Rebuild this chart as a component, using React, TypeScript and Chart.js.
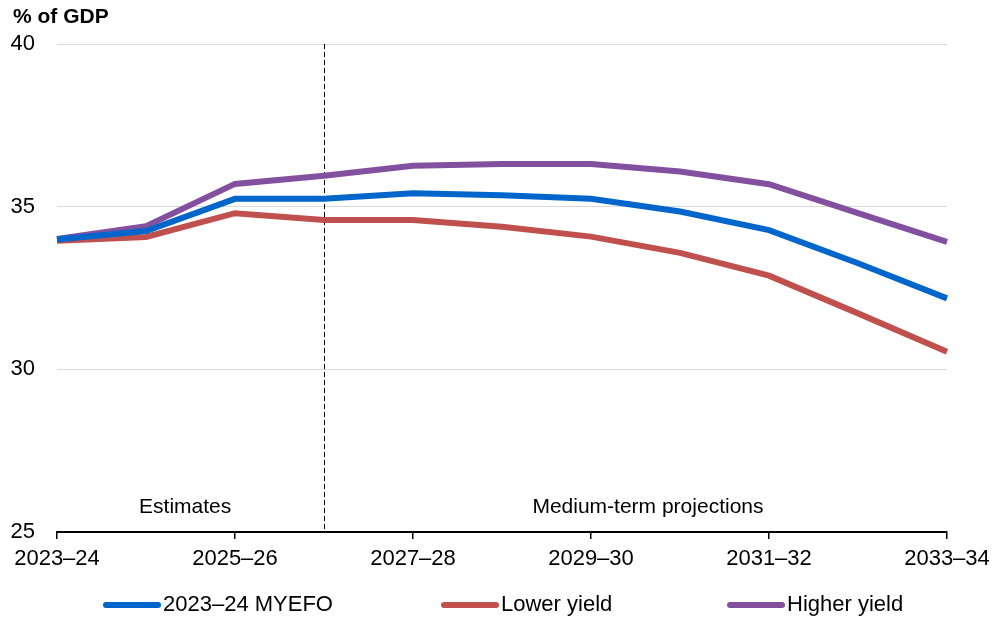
import { useEffect, useRef } from "react";
import { Chart, registerables } from "chart.js";

Chart.register(...registerables);

const categories = [
  "2023–24", "2024–25", "2025–26", "2026–27", "2027–28", "2028–29",
  "2029–30", "2030–31", "2031–32", "2032–33", "2033–34",
];
const myefo = [33.99, 34.25, 35.24, 35.24, 35.41, 35.35, 35.24, 34.85, 34.28, 33.26, 32.18];
const lowerYield = [33.95, 34.07, 34.8, 34.59, 34.59, 34.38, 34.08, 33.58, 32.88, 31.72, 30.54];
const higherYield = [34.01, 34.4, 35.7, 35.95, 36.26, 36.31, 36.31, 36.08, 35.69, 34.8, 33.92];
const seriesLabels = ["2023–24 MYEFO", "Lower yield", "Higher yield"];
const seriesColors = ["#0066CC", "#C0504D", "#834F9F"];
const yMin = 25;
const yMax = 40;
const yStep = 5;
const yAxisTitle = "% of GDP";
const boundaryCategory = "2026–27";
const periodLabels = ["Estimates", "Medium-term projections"];
const periodLabelPositions = [1.44, 6.64];

const FONT = "'Liberation Sans', Arial, sans-serif";

const overlayPlugin = {
  id: "overlay",
  beforeDatasetsDraw(chart: any) {
    const { ctx, chartArea, scales } = chart;
    const xPix = Math.round(scales.x.getPixelForValue(categories.indexOf(boundaryCategory))) + 0.5;
    ctx.save();
    ctx.strokeStyle = "#000";
    ctx.lineWidth = 1;
    ctx.setLineDash([5, 3]);
    ctx.beginPath();
    ctx.moveTo(xPix, chartArea.top);
    ctx.lineTo(xPix, chartArea.bottom);
    ctx.stroke();
    ctx.restore();
  },
  afterDraw(chart: any) {
    const { ctx, chartArea, scales } = chart;
    ctx.save();
    ctx.fillStyle = "#000";
    // axis title
    ctx.font = `bold 21px ${FONT}`;
    ctx.textAlign = "left";
    ctx.textBaseline = "middle";
    ctx.fillText(yAxisTitle, 13, 17);
    // period labels
    ctx.font = `21px ${FONT}`;
    ctx.textAlign = "center";
    periodLabels.forEach((t, i) => {
      ctx.fillText(t, scales.x.getPixelForValue(periodLabelPositions[i]), chartArea.bottom - 25);
    });
    // legend
    const legendX = [103, 441, 727];
    const legendY = 605;
    ctx.font = `22px ${FONT}`;
    ctx.textAlign = "left";
    chart.data.datasets.forEach((ds: any, i: number) => {
      const x0 = legendX[i];
      ctx.strokeStyle = ds.borderColor;
      ctx.lineWidth = 6;
      ctx.lineCap = "round";
      ctx.beginPath();
      ctx.moveTo(x0 + 3, legendY);
      ctx.lineTo(x0 + 55, legendY);
      ctx.stroke();
      ctx.fillStyle = "#000";
      ctx.fillText(ds.label, x0 + 60, legendY);
    });
    ctx.restore();
  },
};

export default function App() {
  const canvasRef = useRef<HTMLCanvasElement | null>(null);

  useEffect(() => {
    if (!canvasRef.current) return;
    const seriesData = [myefo, lowerYield, higherYield];
    const chart = new Chart(canvasRef.current, {
      type: "line",
      data: {
        labels: categories,
        datasets: seriesData.map((d, i) => ({
          label: seriesLabels[i],
          data: d,
          borderColor: seriesColors[i],
          backgroundColor: seriesColors[i],
          borderWidth: 6,
          pointRadius: 0,
          pointHoverRadius: 0,
          tension: 0,
          fill: false,
        })),
      },
      options: {
        responsive: false,
        animation: false,
        devicePixelRatio: 1,
        layout: { padding: { top: 44, right: 50, bottom: 48, left: 0 } },
        plugins: {
          legend: { display: false },
          title: { display: false },
          tooltip: { enabled: false },
        },
        scales: {
          x: {
            type: "category",
            offset: false,
            afterFit: (s: any) => {
              s.height = 40;
            },
            ticks: {
              autoSkip: false,
              maxRotation: 0,
              minRotation: 0,
              padding: 7,
              color: "#000",
              font: { family: FONT, size: 22 },
              callback: (_v: any, i: number) => (i % 2 === 0 ? categories[i] : ""),
            },
            grid: {
              drawOnChartArea: false,
              drawTicks: true,
              tickLength: 7,
              lineWidth: 1.5,
              color: (c: any) => (c.index % 2 === 0 ? "#000" : "rgba(0,0,0,0)"),
            },
            border: { display: true, color: "#000", width: 2 },
          },
          y: {
            min: yMin,
            max: yMax,
            afterFit: (s: any) => {
              s.width = 57;
            },
            ticks: {
              stepSize: yStep,
              padding: 22,
              color: "#000",
              font: { family: FONT, size: 22 },
            },
            grid: {
              drawTicks: false,
              lineWidth: 1,
              color: (c: any) => (c.tick && c.tick.value === yMin ? "rgba(0,0,0,0)" : "#D9D9D9"),
            },
            border: { display: false },
          },
        },
      },
      plugins: [overlayPlugin],
    });
    return () => chart.destroy();
  }, []);

  return (
    <div style={{ position: "fixed", left: 0, top: 0, width: 997, height: 620, background: "#fff" }}>
      <canvas ref={canvasRef} width={997} height={620} style={{ width: 997, height: 620, display: "block" }} />
    </div>
  );
}
